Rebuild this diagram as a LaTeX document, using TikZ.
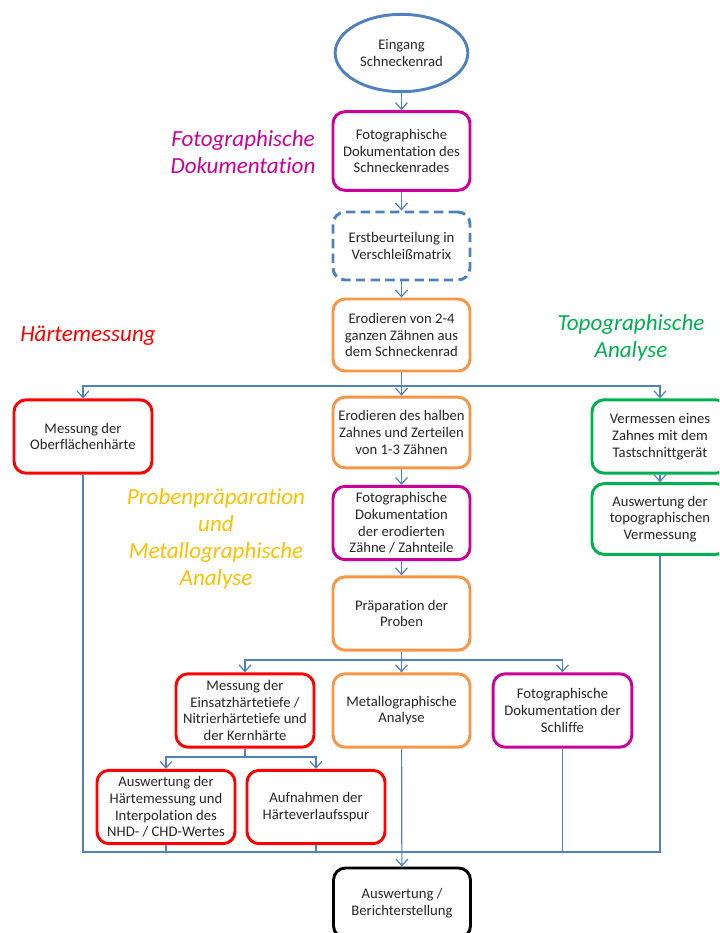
\documentclass[tikz,border=0pt]{standalone}
\usepackage{fontspec}
\setmainfont{Carlito}[Ligatures=CommonOff]
\usetikzlibrary{arrows.meta,shapes.geometric}

\definecolor{linkblue}{HTML}{4F81BD}
\definecolor{docmagenta}{HTML}{CC0099}
\definecolor{procorange}{HTML}{F79646}
\definecolor{hardred}{HTML}{FF0000}
\definecolor{topogreen}{HTML}{00B050}
\definecolor{metalyellow}{HTML}{FFC000}

\tikzset{
  box/.style={draw=#1, line width=2.2pt, rounded corners=9pt, fill=white,
    minimum width=102.75pt, minimum height=54pt, align=center,
    inner sep=2pt, font=\fontsize{11}{12.6}\selectfont, text=black!85},
  link/.style={draw=linkblue, line width=0.9pt},
  arr/.style={link, -{Straight Barb[length=5pt,width=9pt,line width=0.9pt]}},
  phase/.style={font=\fontsize{17.3}{20.4}\selectfont\itshape, align=center, text=#1},
}

\begin{document}
\begin{tikzpicture}[x=0.75pt,y=-0.75pt]
\useasboundingbox (0,0) rectangle (719,933);
\clip (0,0) rectangle (719,933);

% phase labels
\node[phase=docmagenta] (lfoto) at (243,152) {Fotographische\\Dokumentation};
\node[phase=hardred] (lhaerte) at (88,336) {Härtemessung};
\node[phase=topogreen] (ltopo) at (631,338) {Topographische\\Analyse};
\node[phase=metalyellow] (lmetal) at (216,539) {Probenpräparation\\und\\Metallographische\\Analyse};

% main column
\node[ellipse, draw=linkblue, line width=2.2pt, minimum width=99.5pt, minimum height=58pt,
      align=center, font=\fontsize{11}{12.6}\selectfont, text=black!85, inner sep=0pt]
      (ein) at (401.5,53) {Eingang\\Schneckenrad};
\node[box=docmagenta, minimum height=59pt] (fdok) at (401.5,151) {Fotographische\\Dokumentation des\\Schneckenrades};
\node[box=linkblue, dashed, dash pattern=on 7pt off 4pt, minimum height=51pt] (erst) at (401.5,246) {Erstbeurteilung in\\Verschleißmatrix};
\node[box=procorange, minimum height=54pt] (ero1) at (401.5,335) {Erodieren von 2-4\\ganzen Zähnen aus\\dem Schneckenrad};
\node[box=procorange, minimum height=53pt] (ero2) at (401.5,432.5) {Erodieren des halben\\Zahnes und Zerteilen\\von 1-3 Zähnen};
\node[box=docmagenta, minimum height=55pt] (fero) at (401.5,523) {Fotographische\\Dokumentation\\der erodierten\\Zähne / Zahnteile};
\node[box=procorange, minimum height=55pt] (prep) at (401.5,613.5) {Präparation der\\Proben};

% side branches
\node[box=hardred, minimum width=103.5pt, minimum height=55pt] (ober) at (83,436.5) {Messung der\\Oberflächenhärte};
\node[box=topogreen, minimum width=102pt, minimum height=55pt] (verm) at (660,436.5) {Vermessen eines\\Zahnes mit dem\\Tastschnittgerät};
\node[box=topogreen, minimum width=102pt, minimum height=53pt] (ausw) at (660,519) {Auswertung der\\topographischen\\Vermessung};

% lower row
\node[box=hardred, minimum width=103.5pt, minimum height=55pt] (eins) at (245,710.5) {Messung der\\Einsatzhärtetiefe /\\Nitrierhärtetiefe und\\der Kernhärte};
\node[box=procorange, minimum height=55pt] (metal) at (401.5,710.5) {Metallographische\\Analyse};
\node[box=docmagenta, minimum width=104pt, minimum height=55pt] (schl) at (562.5,710.5) {Fotographische\\Dokumentation der\\Schliffe};
\node[box=hardred, minimum width=103.5pt, minimum height=55pt] (hmess) at (166,807) {Auswertung der\\Härtemessung und\\Interpolation des\\NHD- / CHD-Wertes};
\node[box=hardred, minimum width=103.5pt, minimum height=55pt] (spur) at (316,807) {Aufnahmen der\\Härteverlaufsspur};

% final report
\node[box=black, minimum height=52.5pt] (ber) at (402,903) {Auswertung /\\Berichterstellung};

% split and join points
\coordinate (split1) at (401.5,386);
\coordinate (split2) at (401.5,660);
\coordinate (split3) at (245,757);
\coordinate (join) at (401.5,852);

% connectors down the main column
\draw[arr] (ein) -- (fdok);
\draw[arr] (fdok) -- (erst);
\draw[arr] (erst) -- (ero1);
\draw[arr] (ero1) -- (ero2);
\draw[arr] (split1) -| (ober.north);
\draw[arr] (split1) -| (verm.north);
\draw[arr] (ero2) -- (fero);
\draw[arr] (fero) -- (prep);
\draw[arr] (verm) -- (ausw);
\draw[arr] (prep) -- (metal);
\draw[arr] (split2) -| (eins.north);
\draw[arr] (split2) -| (schl.north);
\draw[link] (eins.south) -- (split3);
\draw[arr] (split3) -| (hmess.north);
\draw[arr] (split3) -| (spur.north);

% collecting line into the report
\draw[link] (ober.south) |- (join);
\draw[link] (ausw.south) |- (join);
\draw[link] (hmess.south) -- (hmess.south |- join);
\draw[link] (spur.south) -- (spur.south |- join);
\draw[link] (schl.south) -- (schl.south |- join);
\draw[arr] (metal) -- (ber);
\end{tikzpicture}
\end{document}
